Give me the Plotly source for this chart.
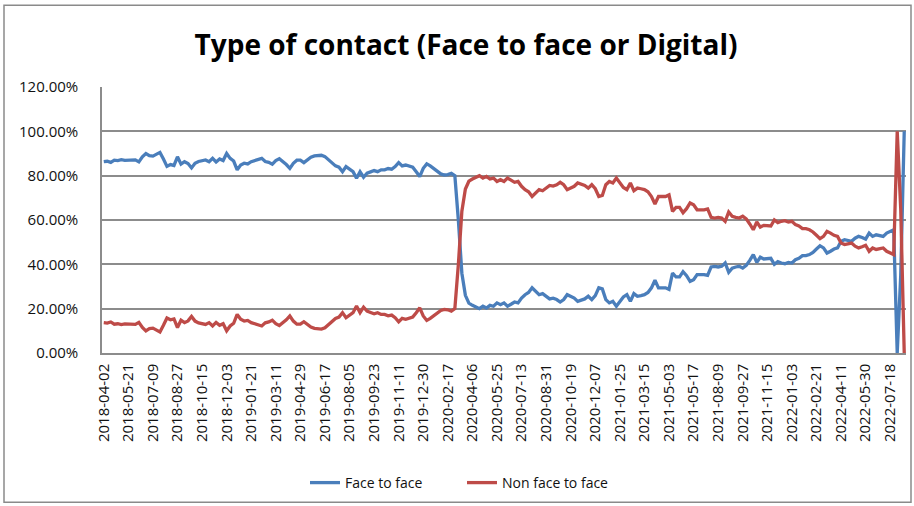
import plotly.graph_objects as go
import pandas as pd

# ---- categories (weekly dates, with an irregular stretch in mid-2021) ----
weeks_a = [d.strftime("%Y-%m-%d") for d in pd.date_range("2018-04-02", "2021-05-03", freq="7D")]
mid_a = ["2021-05-05", "2021-05-07", "2021-05-09", "2021-05-11", "2021-05-13", "2021-05-15"]
mid_b = ["2021-05-17", "2021-05-31", "2021-06-14", "2021-06-28", "2021-07-12", "2021-07-19", "2021-07-26"]
weeks_b = [d.strftime("%Y-%m-%d") for d in pd.date_range("2021-08-09", "2022-08-15", freq="7D")]
dates = weeks_a + mid_a + mid_b + weeks_b

tick_labels = [
    "2018-04-02", "2018-05-21", "2018-07-09", "2018-08-27", "2018-10-15", "2018-12-03",
    "2019-01-21", "2019-03-11", "2019-04-29", "2019-06-17", "2019-08-05", "2019-09-23",
    "2019-11-11", "2019-12-30", "2020-02-17", "2020-04-06", "2020-05-25", "2020-07-13",
    "2020-08-31", "2020-10-19", "2020-12-07", "2021-01-25", "2021-03-15", "2021-05-03",
    "2021-05-17", "2021-08-09", "2021-09-27", "2021-11-15", "2022-01-03", "2022-02-21",
    "2022-04-11", "2022-05-30", "2022-07-18",
]

# ---- series values (percent) ----
face_to_face = [
    86.3, 86.5, 86.0, 87.0, 86.8, 87.2, 86.9, 87.0, 86.8, 87.1,
    86.2, 88.5, 90.0, 89.0, 88.8, 89.5, 90.5, 87.5, 84.2, 85.0,
    84.6, 88.5, 85.2, 86.3, 85.5, 83.5, 85.6, 86.4, 86.8, 87.1,
    86.3, 87.8, 86.2, 87.5, 86.8, 90.0, 87.8, 86.6, 82.6, 84.8,
    85.6, 85.3, 86.3, 86.8, 87.4, 87.8, 86.4, 86.0, 85.2, 86.8,
    87.6, 86.4, 85.0, 83.3, 85.6, 87.0, 87.0,
    85.9, 87.1, 88.3, 88.9, 88.9, 89.2, 88.6, 87.1, 85.6, 84.4,
    83.8, 81.8, 84.1, 82.9, 81.8, 78.8, 81.8, 79.3, 81.1, 81.7,
    82.3, 81.8, 82.6, 82.6, 83.2, 82.9, 84.1, 85.9, 84.4, 84.8,
    84.1, 83.8, 81.8, 79.6, 83.3, 85.3, 84.4, 83.3, 82.3, 80.8,
    80.3, 80.5, 81.1, 80.0,
    60.0, 36.0, 26.0, 22.5, 21.5, 20.8, 20.0, 21.1, 20.3, 21.5, 21.1, 22.6,
    21.8, 22.6, 21.1, 22.0, 23.0, 22.6, 24.8, 26.3, 27.3, 29.4,
    27.8, 26.3, 26.8, 25.6, 24.4, 24.7, 24.1, 23.0, 24.1, 26.3,
    25.6, 24.8, 23.3, 23.8, 24.4, 25.6, 24.1, 25.9, 29.4, 28.9,
    24.1, 22.6, 23.3, 21.1, 23.3, 25.3, 26.3, 23.3, 26.8, 25.6,
    25.9, 26.3, 27.3, 29.4, 32.8, 29.4, 29.4, 29.4, 28.7, 36.1,
    34.3, 34.3, 36.7, 34.9, 32.3, 33.1, 35.4, 35.4, 35.4,
    35.0, 38.8, 39.1, 38.8, 39.1, 40.6, 36.4, 38.3, 38.8, 39.1,
    38.3, 39.5, 41.8, 44.4, 40.9, 43.2, 42.4, 42.4, 42.7, 40.0,
    41.2, 40.6, 40.3, 40.9, 40.6, 42.1, 42.7, 43.9, 43.9, 44.4,
    45.4, 46.9, 48.4, 47.4, 45.1, 45.9, 46.9, 47.4, 50.4, 51.1,
    50.8, 50.4, 51.8, 52.6, 52.1, 51.4, 54.1, 52.6, 53.3, 52.9,
    52.6, 54.1, 54.7, 55.6, 0.0, 35.0, 100.0,
]

non_face_to_face = [
    13.7, 13.5, 14.0, 13.0, 13.2, 12.8, 13.1, 13.0, 13.2, 12.9,
    13.8, 11.5, 10.0, 11.0, 11.2, 10.5, 9.5, 12.5, 15.8, 15.0,
    15.4, 11.5, 14.8, 13.7, 14.5, 16.5, 14.4, 13.6, 13.2, 12.9,
    13.7, 12.2, 13.8, 12.5, 13.2, 10.0, 12.2, 13.4, 17.4, 15.2,
    14.4, 14.7, 13.7, 13.2, 12.6, 12.2, 13.6, 14.0, 14.8, 13.2,
    12.4, 13.6, 15.0, 16.7, 14.4, 13.0, 13.0,
    14.1, 12.9, 11.7, 11.1, 11.1, 10.8, 11.4, 12.9, 14.4, 15.6,
    16.2, 18.2, 15.9, 17.1, 18.2, 21.2, 18.2, 20.7, 18.9, 18.3,
    17.7, 18.2, 17.4, 17.4, 16.8, 17.1, 15.9, 14.1, 15.6, 15.2,
    15.9, 16.2, 18.2, 20.4, 16.7, 14.7, 15.6, 16.7, 17.7, 19.2,
    19.7, 19.5, 18.9, 20.0,
    40.0, 64.0, 74.0, 77.5, 78.5, 79.2, 80.0, 78.9, 79.7, 78.5, 78.9, 77.4,
    78.2, 77.4, 78.9, 78.0, 77.0, 77.4, 75.2, 73.7, 72.7, 70.6,
    72.2, 73.7, 73.2, 74.4, 75.6, 75.3, 75.9, 77.0, 75.9, 73.7,
    74.4, 75.2, 76.7, 76.2, 75.6, 74.4, 75.9, 74.1, 70.6, 71.1,
    75.9, 77.4, 76.7, 78.9, 76.7, 74.7, 73.7, 76.7, 73.2, 74.4,
    74.1, 73.7, 72.7, 70.6, 67.2, 70.6, 70.6, 70.6, 71.3, 63.9,
    65.7, 65.7, 63.3, 65.1, 67.7, 66.9, 64.6, 64.6, 64.6,
    65.0, 61.2, 60.9, 61.2, 60.9, 59.4, 63.6, 61.7, 61.2, 60.9,
    61.7, 60.5, 58.2, 55.6, 59.1, 56.8, 57.6, 57.6, 57.3, 60.0,
    58.8, 59.4, 59.7, 59.1, 59.4, 57.9, 57.3, 56.1, 56.1, 55.6,
    54.6, 53.1, 51.6, 52.6, 54.9, 54.1, 53.1, 52.6, 49.6, 48.9,
    49.2, 49.6, 48.2, 47.4, 47.9, 48.6, 45.9, 47.4, 46.7, 47.1,
    47.4, 45.9, 45.3, 44.4, 100.0, 65.0, 0.0,
]

BLUE = "#4a7ebb"
RED = "#be4b48"
GRID = "#8c8c8c"
FONT = "Open Sans, Liberation Sans, sans-serif"

fig = go.Figure()
fig.add_trace(go.Scatter(x=dates, y=face_to_face, mode="lines", name="Face to face",
                         line=dict(color=BLUE, width=3.3)))
fig.add_trace(go.Scatter(x=dates, y=non_face_to_face, mode="lines", name="Non face to face",
                         line=dict(color=RED, width=3.3)))

L, R, T, B = 102, 8, 87, 152.5
W, H = 914, 506
pw, ph = W - L - R, H - T - B

def px_x(x):
    return (x - L) / pw

def px_y(y):
    return (H - B - y) / ph

fig.update_layout(
    width=W, height=H,
    margin=dict(l=L, r=R, t=T, b=B, pad=0, autoexpand=False),
    paper_bgcolor="white", plot_bgcolor="white",
    font=dict(family=FONT, color="#111111", size=13),
    title=dict(text="<b>Type of contact (Face to face or Digital)</b>",
               x=466 / W, xref="container", xanchor="center",
               y=1 - 45 / H, yref="container", yanchor="middle",
               font=dict(family=FONT, size=28, color="#000000"), automargin=False),
    showlegend=True,
    legend=dict(orientation="h", xref="container", yref="container",
                x=462 / W, xanchor="center", y=1 - 483 / H, yanchor="middle",
                font=dict(size=14, family=FONT), entrywidth=112,
                bgcolor="rgba(0,0,0,0)"),
    xaxis=dict(type="category", range=[-0.5, len(dates) - 0.5], automargin=False,
               tickmode="array", tickvals=tick_labels, ticktext=tick_labels,
               tickangle=-90, tickfont=dict(size=15), showgrid=False,
               showline=True, linecolor=GRID, linewidth=1.5, ticks="",
               ticklabelstandoff=3),
    yaxis=dict(range=[0, 120], dtick=20, tickformat=".2f", ticksuffix="%",
               automargin=False,
               showgrid=True, gridcolor=GRID, gridwidth=1.5, zeroline=False,
               showline=True, linecolor=GRID, linewidth=1.5, ticks="",
               tickfont=dict(size=15), ticklabelstandoff=19),
    shapes=[dict(type="rect", xref="paper", yref="paper",
                 x0=px_x(4), x1=px_x(911), y0=px_y(503), y1=px_y(5),
                 line=dict(color="#8a8a8a", width=1.5), fillcolor="rgba(0,0,0,0)",
                 layer="below")],
)

fig.write_html(
    "out.html",
    config={"displayModeBar": False},
    post_script="document.body.style.margin='0';document.body.style.padding='0';"
                "document.body.style.overflow='hidden';",
)
